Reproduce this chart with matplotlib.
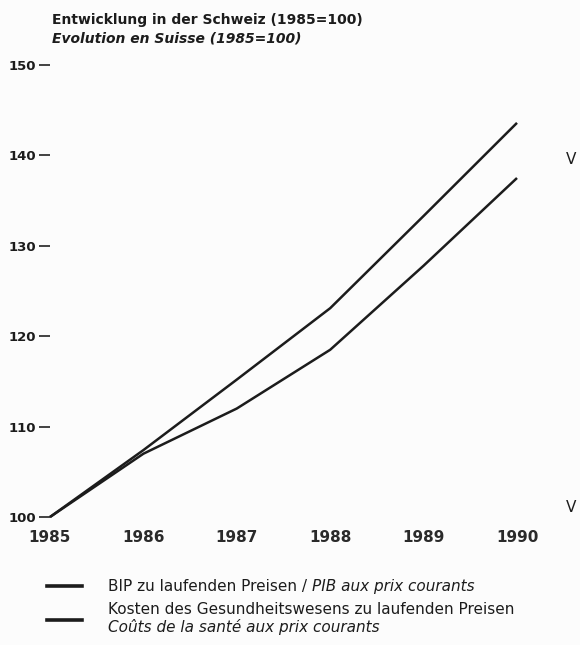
import matplotlib.pyplot as plt
from matplotlib.lines import Line2D

plt.rcParams['font.family'] = ['DejaVu Sans']

# index values (1985=100)
years = [1985, 1986, 1987, 1988, 1989, 1990]
bip = [100, 107.4, 115.2, 123.1, 133.3, 143.6]
kosten = [100, 107.0, 112.0, 118.5, 127.8, 137.5]
y_ticks = [100, 110, 120, 130, 140, 150]

title_de = "Entwicklung in der Schweiz (1985=100)"
title_fr = "Evolution en Suisse (1985=100)"
label_bip = ["BIP zu laufenden Preisen / ", "PIB aux prix courants"]
label_kosten = ["Kosten des Gesundheitswesens zu laufenden Preisen",
                "Coûts de la santé aux prix courants"]

ink = "#1c1c1c"
W, H = 580, 645

fig = plt.figure(figsize=(W / 100, H / 100), dpi=100, facecolor="#fcfcfc")

# axes placed so that 1985..1990 and 100..150 land where the original has them
ax = fig.add_axes([50 / W, 1 - 517 / H, (517 - 50) / W, (517 - 65) / H])
ax.set_facecolor("none")

ax.plot(years, bip, color=ink, lw=1.8, clip_on=False, solid_capstyle="butt")
ax.plot(years, kosten, color=ink, lw=1.8, clip_on=False, solid_capstyle="butt")

ax.set_xlim(1985, 1990)
ax.set_ylim(100, 150)
ax.set_xticks(years)
ax.set_xticklabels([str(y) for y in years])
ax.set_yticks(y_ticks)
ax.set_yticklabels([str(v) for v in y_ticks])

for s in ax.spines.values():
    s.set_visible(False)

ax.tick_params(axis="y", length=8, width=1.3, color="#333333", pad=2,
               labelsize=9.5, labelcolor=ink)
ax.tick_params(axis="x", length=0, pad=9, labelsize=11, labelcolor="#2a2a2a")
for lab in ax.get_xticklabels() + ax.get_yticklabels():
    lab.set_fontweight("bold")

# titles
def fy(py):
    return 1 - py / H

fig.text(52 / W, fy(20), title_de, fontsize=10, fontweight="bold",
         color=ink, va="center", ha="left")
fig.text(52 / W, fy(38), title_fr, fontsize=10, fontweight="bold",
         style="italic", color=ink, va="center", ha="left")

# legend drawn by hand
for ly in [586, 620]:
    fig.add_artist(Line2D([47 / W, 82 / W], [fy(ly), fy(ly)], color=ink,
                          lw=2.6, transform=fig.transFigure))

t = fig.text(108 / W, fy(586), label_bip[0], fontsize=11, color=ink,
             va="center", ha="left")
fig.canvas.draw()
bb = t.get_window_extent()
fig.text(bb.x1 / W, fy(586), label_bip[1], fontsize=11, style="italic",
         color=ink, va="center", ha="left")
fig.text(108 / W, fy(609), label_kosten[0], fontsize=11, color=ink,
         va="center", ha="left")
fig.text(108 / W, fy(627), label_kosten[1], fontsize=11, style="italic",
         color=ink, va="center", ha="left")

# stray letters from the neighbouring page at the right edge
fig.text(566 / W, fy(160), "V", fontsize=11, color=ink, va="center", ha="left")
fig.text(566 / W, fy(508), "V", fontsize=11, color=ink, va="center", ha="left")

fig.savefig("out.png", dpi=100, facecolor=fig.get_facecolor())
